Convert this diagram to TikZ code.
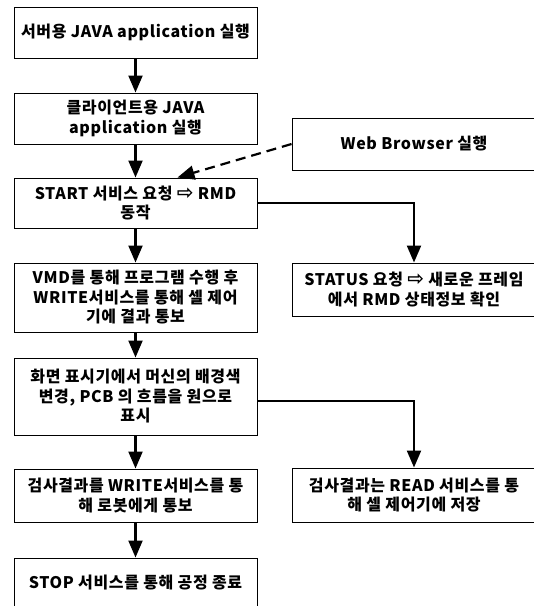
\documentclass[tikz,border=0pt]{standalone}
\usepackage{fontspec}
\newfontfamily\krfont{Noto Sans CJK KR}[LetterSpace=4]
\newfontfamily\arrfont{DejaVu Sans}
\usetikzlibrary{arrows.meta}
\newcommand{\rarr}{{\arrfont\fontsize{20}{19.5}\selectfont ⇨}}
\begin{document}
\begin{tikzpicture}[x=1pt,y=-1pt,
  box/.style={draw, line width=1pt, minimum width=243pt, inner sep=0pt,
    align=center, font=\krfont\bfseries\fontsize{16}{19.5}\selectfont},
  arr/.style={line width=2.2pt, -{Triangle[length=17pt,width=14pt]}},
  darr/.style={line width=2.2pt, dash pattern=on 10pt off 6pt, -{Triangle[length=17pt,width=14pt]}}]
\useasboundingbox[fill=white] (0,0) rectangle (534,606);
\node[box, minimum height=51pt] (b1) at (135.5,32.5) {서버용 JAVA application 실행};
\node[box, minimum height=51pt] (b2) at (135.5,118.5) {클라이언트용 JAVA\\application 실행};
\node[box, minimum height=50pt] (b3) at (135.5,203) {START 서비스 요청 \rarr\ RMD\\동작};
\node[box, minimum height=52pt, minimum width=244pt] (web) at (414,144) {Web Browser 실행};
\node[box, minimum height=69pt] (b4) at (135.5,297.5) {VMD를 통해 프로그램 수행 후\\WRITE서비스를 통해 셀 제어\\기에 결과 통보};
\node[box, minimum height=53pt, minimum width=244pt] (st) at (414,289.5) {STATUS 요청 \rarr\ 새로운 프레임\\에서 RMD 상태정보 확인};
\node[box, minimum height=77pt] (b5) at (135.5,396.5) {화면 표시기에서 머신의 배경색\\변경, PCB 의 흐름을 원으로\\표시};
\node[box, minimum height=53pt] (b6) at (135.5,495.5) {검사결과를 WRITE서비스를 통\\해 로봇에게 통보};
\node[box, minimum height=54pt, minimum width=244pt] (b7) at (414,495) {검사결과는 READ 서비스를 통\\해 셀 제어기에 저장};
\node[box, minimum height=50pt] (b8) at (135.5,583) {STOP 서비스를 통해 공정 종료};
\draw[arr] (b1) -- (b2);
\draw[arr] (b2) -- (b3);
\draw[arr] (b3) -- (b4);
\draw[arr] (b4) -- (b5);
\draw[arr] (b5) -- (b6);
\draw[arr] (b6) -- (b8);
\draw[darr] (web.west) -- ([xshift=42pt]b3.north);
\draw[arr] (b3.east) -| (st.north);
\draw[arr] ([yshift=-4.5pt]b5.east) -| (b7.north);
\end{tikzpicture}
\end{document}
